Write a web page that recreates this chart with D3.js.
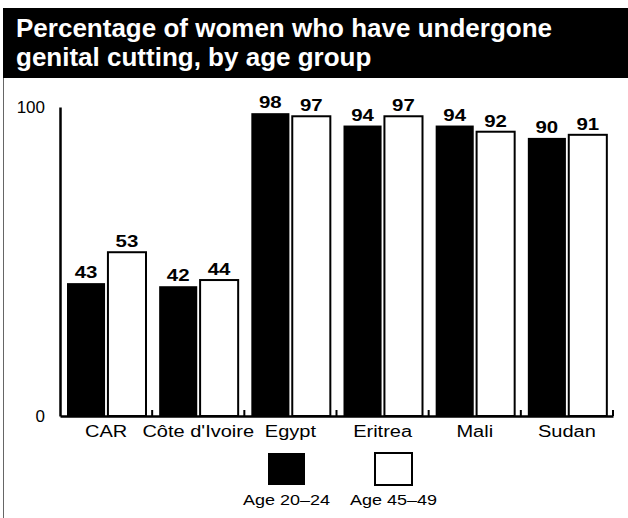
<!DOCTYPE html>
<meta charset="utf-8">
<style>
  body { margin: 0; background: #fff; }
  text { font-family: "Liberation Sans", Arial, Helvetica, sans-serif; }
</style>
<script src="https://d3js.org/d3.v7.min.js"></script>
<div id="chart"></div>
<script>

// data
var countries = ["CAR", "Côte d'Ivoire", "Egypt", "Eritrea", "Mali", "Sudan"];
var age2024 = [43, 42, 98, 94, 94, 90];
var age4549 = [53, 44, 97, 97, 92, 91];
var seriesNames = ["Age 20–24", "Age 45–49"];
var seriesFill = ["#000", "#fff"];
var yTicks = [0, 100];

var W = 628, H = 518;

var svg = d3.select("#chart").append("svg")
  .attr("width", W)
  .attr("height", H);

svg.append("rect").attr("width", W).attr("height", H).attr("fill", "#fff");

// stretch text horizontally, the scanned type is wider than Arial
function stretch(sel, k) {
  sel.each(function() {
    var w = this.getComputedTextLength();
    this.setAttribute("textLength", w * k);
    this.setAttribute("lengthAdjust", "spacingAndGlyphs");
  });
}

// frame + title
svg.append("line")
  .attr("x1", 3.5).attr("x2", 3.5).attr("y1", 8).attr("y2", H)
  .attr("stroke", "#666").attr("stroke-width", 1);

svg.append("rect")
  .attr("x", 3).attr("y", 8).attr("width", W - 3).attr("height", 70)
  .attr("fill", "#000");

svg.append("text")
  .attr("x", 16).attr("y", 37)
  .attr("fill", "#fff").attr("font-size", 26).attr("font-weight", "bold")
  .text("Percentage of women who have undergone");
svg.append("text")
  .attr("x", 16).attr("y", 66)
  .attr("fill", "#fff").attr("font-size", 26).attr("font-weight", "bold")
  .text("genital cutting, by age group");

// scales
var x0 = d3.scaleBand()
  .domain(countries)
  .range([60, 613])
  .padding(0);

var x1 = d3.scaleBand()
  .domain([0, 1])
  .range([7, 86])
  .paddingInner(0.07);

var y = d3.scaleLinear()
  .domain([0, 100])
  .range([416, 107]);

var rows = countries.map(function(c, i) {
  return { country: c, values: [age2024[i], age4549[i]] };
});

// bars
var groups = svg.selectAll("g.grp")
  .data(rows)
  .enter().append("g")
    .attr("class", "grp")
    .attr("transform", function(d) { return "translate(" + x0(d.country) + ",0)"; });

groups.selectAll("rect")
  .data(function(d) { return d.values.map(function(v, j) { return { v: v, j: j }; }); })
  .enter().append("rect")
    .attr("x", function(d) { return x1(d.j); })
    .attr("y", function(d) { return y(d.v); })
    .attr("width", x1.bandwidth())
    .attr("height", function(d) { return y(0) - y(d.v); })
    .attr("fill", function(d) { return seriesFill[d.j]; })
    .attr("stroke", "#000")
    .attr("stroke-width", function(d) { return d.j === 0 ? 0 : 2; });

var vlabels = groups.selectAll("text")
  .data(function(d) { return d.values.map(function(v, j) { return { v: v, j: j }; }); })
  .enter().append("text")
    .attr("x", function(d) { return x1(d.j) + x1.bandwidth() / 2; })
    .attr("y", function(d) { return y(d.v) - 5; })
    .attr("text-anchor", "middle")
    .attr("font-size", 17)
    .attr("font-weight", "bold")
    .text(function(d) { return d.v; });
stretch(vlabels, 1.2);

// y axis
var yAxis = svg.append("g")
  .attr("transform", "translate(60,0)")
  .call(d3.axisLeft(y).tickValues(yTicks).tickSize(0).tickSizeOuter(0).tickPadding(15));
yAxis.select(".domain").attr("stroke", "#000").attr("stroke-width", 2.5);
yAxis.selectAll("text").attr("font-size", 17).attr("fill", "#000")
  .attr("font-family", "'Liberation Sans', Arial, sans-serif");

// x axis
var xAxis = svg.append("g")
  .attr("transform", "translate(0," + y(0) + ")")
  .call(d3.axisBottom(x0).tickSize(0).tickSizeOuter(0).tickPadding(10));
xAxis.select(".domain").attr("stroke", "#000").attr("stroke-width", 2.5);
var xl = xAxis.selectAll("text").attr("font-size", 16).attr("fill", "#000")
  .attr("font-family", "'Liberation Sans', Arial, sans-serif");
stretch(xl, 1.25);

// small ticks at group boundaries
svg.selectAll("line.sep")
  .data(countries)
  .enter().append("line")
    .attr("class", "sep")
    .attr("x1", function(d) { return x0(d) + x0.bandwidth(); })
    .attr("x2", function(d) { return x0(d) + x0.bandwidth(); })
    .attr("y1", y(0))
    .attr("y2", y(0) - 6)
    .attr("stroke", "#000")
    .attr("stroke-width", 2);

// legend
var legX = [268, 375];
var leg = svg.selectAll("g.leg")
  .data(seriesNames)
  .enter().append("g")
    .attr("class", "leg")
    .attr("transform", function(d, i) { return "translate(" + legX[i] + ",453)"; });

leg.append("rect")
  .attr("width", 37)
  .attr("height", 32)
  .attr("fill", function(d, i) { return seriesFill[i]; })
  .attr("stroke", "#000")
  .attr("stroke-width", function(d, i) { return i === 0 ? 0 : 2; });

var lt = leg.append("text")
  .attr("x", 18.5)
  .attr("y", 52)
  .attr("text-anchor", "middle")
  .attr("font-size", 15)
  .text(function(d) { return d; });
stretch(lt, 1.2);

</script>
